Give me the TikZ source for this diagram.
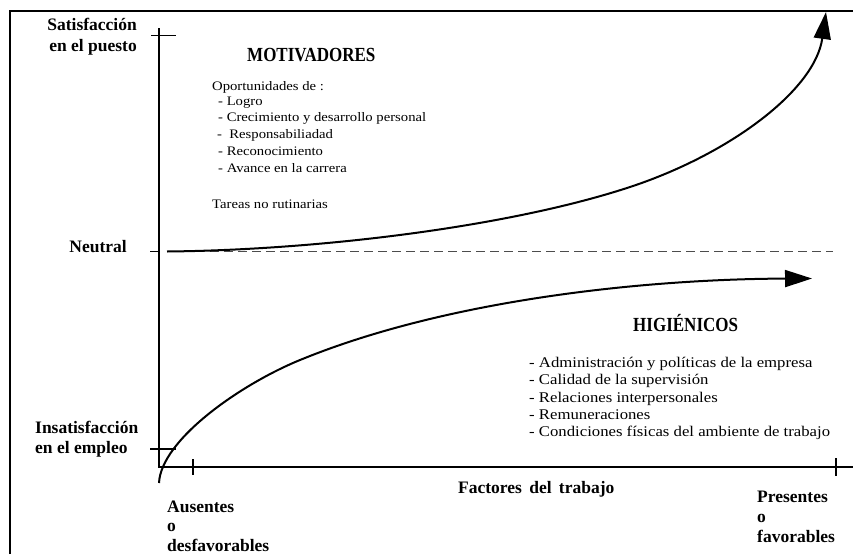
\documentclass[tikz,border=0pt]{standalone}
\usepackage{fontspec}
\setmainfont{Liberation Serif}
\newfontfamily\widefont[FakeStretch=1.13]{Liberation Serif}
\newfontfamily\headfont[FakeStretch=0.85]{Liberation Serif}
\usetikzlibrary{arrows.meta}
\begin{document}
\begin{tikzpicture}[x=1pt,y=-1pt,
  lbl/.style={inner sep=0pt,font=\fontsize{17.5}{20}\selectfont\bfseries},
  head/.style={inner sep=0pt,anchor=base west,font=\headfont\fontsize{20}{22}\selectfont\bfseries},
  small/.style={inner sep=0pt,anchor=base west,font=\widefont\fontsize{13}{15}\selectfont},
  hyg/.style={inner sep=0pt,anchor=base west,font=\widefont\fontsize{14.8}{17}\selectfont},
  axis/.style={line width=2pt},
  tick/.style={line width=1.4pt},
  curve/.style={line width=2pt,-{Triangle[length=27pt,width=17pt]}},
  frame/.style={line width=2.4pt}]
\useasboundingbox (0,0) rectangle (853,554);
\fill[white] (0,0) rectangle (853,554);
% frame
\coordinate (fbl) at (10,554);
\coordinate (ftl) at (10,11);
\coordinate (ftr) at (853,11);
\draw[frame] (fbl) -- (ftl) -- (ftr);
% axes
\coordinate (o) at (158.5,466.5);
\coordinate (ytop) at (158.5,28);
\coordinate (xend) at (853,466.5);
\draw[axis] (ytop) -- (o) -- (xend);
% ticks
\coordinate (t1a) at (151,35.5); \coordinate (t1b) at (176,35.5);
\draw[tick] (t1a) -- (t1b);
\coordinate (t2a) at (150,251.5); \coordinate (t2b) at (160,251.5);
\draw[tick] (t2a) -- (t2b);
\coordinate (t3a) at (150,449); \coordinate (t3b) at (176,449);
\draw[tick] (t3a) -- (t3b);
\coordinate (t4a) at (193,459); \coordinate (t4b) at (193,475);
\draw[tick] (t4a) -- (t4b);
\coordinate (t5a) at (836,458); \coordinate (t5b) at (836,476);
\draw[tick] (t5a) -- (t5b);
% neutral dashed line
\coordinate (na) at (168,251.5); \coordinate (nb) at (833,251.5);
\draw[line width=1.2pt,dash pattern=on 8.5pt off 5.5pt,black!70] (na) -- (nb);
% motivadores curve
\coordinate (u0) at (167,251.5);
\coordinate (u1) at (630,187);
\coordinate (u2) at (826,12);
\draw[curve] (u0) .. controls (320,250) and (510,226.6) .. (u1)
                  .. controls (730,154) and (815,90) .. (u2);
% higienicos curve
\coordinate (l0) at (159,483);
\coordinate (l1) at (300,360);
\coordinate (l2) at (812,278.5);
\draw[curve] (l0) .. controls (161,440) and (240,384.6) .. (l1)
                  .. controls (450,298.5) and (650,279) .. (l2);
% axis labels
\node[lbl,anchor=base east] (sat1) at (137,30) {Satisfacción};
\node[lbl,anchor=base east] (sat2) at (137,51) {en el puesto};
\node[lbl,anchor=base east] (neu) at (127,252) {Neutral};
\node[lbl,anchor=base west] (ins1) at (35,433) {Insatisfacción};
\node[lbl,anchor=base west] (ins2) at (35,453) {en el empleo};
\node[lbl,anchor=base west] (aus1) at (167,512) {Ausentes};
\node[lbl,anchor=base west] (aus2) at (167,531) {o};
\node[lbl,anchor=base west] (aus3) at (167,551) {desfavorables};
\node[lbl,anchor=base west] (pre1) at (757,502) {Presentes};
\node[lbl,anchor=base west] (pre2) at (757,522) {o};
\node[lbl,anchor=base west] (pre3) at (757,542) {favorables};
\node[lbl,anchor=base west] (fac) at (458,493) {Factores\, del\, trabajo};
% headings
\node[head] (mot) at (247,61) {MOTIVADORES};
\node[head] (hig) at (633,331) {HIGIÉNICOS};
% motivadores list
\node[small] (m0) at (212,90) {Oportunidades de :};
\node[small] (m1) at (218,105) {- Logro};
\node[small] (m2) at (218,121) {- Crecimiento y desarrollo personal};
\node[small] (m3) at (217,138) {-\ \ Responsabiliadad};
\node[small] (m4) at (218,155.5) {- Reconocimiento};
\node[small] (m5) at (218,172.5) {- Avance en la carrera};
\node[small] (m6) at (212,208) {Tareas no rutinarias};
% higienicos list
\node[hyg] (h1) at (529,367) {- Administración y políticas de la empresa};
\node[hyg] (h2) at (529,384) {- Calidad de la supervisión};
\node[hyg] (h3) at (529,402) {- Relaciones interpersonales};
\node[hyg] (h4) at (529,419) {- Remuneraciones};
\node[hyg] (h5) at (529,436) {- Condiciones físicas del ambiente de trabajo};
\end{tikzpicture}
\end{document}
